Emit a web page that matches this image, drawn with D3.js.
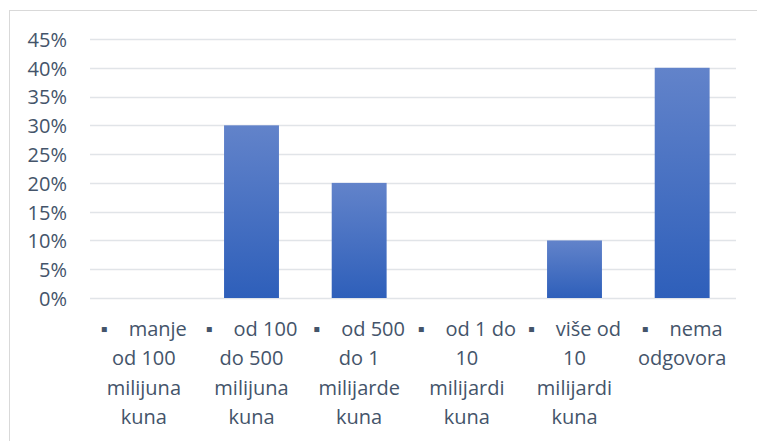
<!DOCTYPE html>
<html>
<head>
<meta charset="utf-8">
<script src="https://cdn.jsdelivr.net/npm/d3@7"></script>
<style>
  body { margin: 0; background: #fff; }
  text { font-family: "Open Sans", "Noto Sans", sans-serif; fill: #44546a; }
</style>
</head>
<body>
<div id="chart"></div>
<script>
// categories, each split into the lines shown under the axis
var categories = [
    ["▪    manje", "od 100", "milijuna", "kuna"],
    ["▪    od 100", "do 500", "milijuna", "kuna"],
    ["▪    od 500", "do 1", "milijarde", "kuna"],
    ["▪    od 1 do", "10", "milijardi", "kuna"],
    ["▪    više od", "10", "milijardi", "kuna"],
    ["▪    nema", "odgovora"]
];
var shares = [0, 0.30, 0.20, 0, 0.10, 0.40];
var yTicks = [0, 0.05, 0.10, 0.15, 0.20, 0.25, 0.30, 0.35, 0.40, 0.45];

var width = 757,
    height = 441;

var margin = {left: 90, right: 21, top: 39, bottom: 143};
var fontSize = "20px";

var svg = d3.select("#chart").append("svg")
    .attr("width", width)
    .attr("height", height);

// frame
svg.append("rect")
    .attr("x", 9.5)
    .attr("y", 10.5)
    .attr("width", 760)
    .attr("height", 440)
    .style("fill", "none")
    .style("stroke", "#d9d9d9");

var grad = svg.append("defs").append("linearGradient")
    .attr("id", "barGrad")
    .attr("x1", 0).attr("y1", 0).attr("x2", 0).attr("y2", 1);
grad.append("stop").attr("offset", "0%").attr("stop-color", "#6283ca");
grad.append("stop").attr("offset", "100%").attr("stop-color", "#2e5fba");

var xScale = d3.scaleBand()
    .domain(d3.range(categories.length))
    .range([margin.left, width - margin.right])
    .paddingInner(0.49)
    .paddingOuter(0.245);

var yScale = d3.scaleLinear()
    .domain([0, 0.45])
    .range([height - margin.bottom, margin.top]);

// gridlines
svg.append("g")
    .selectAll("line")
    .data(yTicks)
    .enter()
    .append("line")
        .attr("x1", margin.left)
        .attr("x2", width - margin.right)
        .attr("y1", function(d) { return Math.round(yScale(d)) + 0.5; })
        .attr("y2", function(d) { return Math.round(yScale(d)) + 0.5; })
        .style("stroke", "#e1e4e8")
        .style("stroke-width", 1.5);

// y axis labels
var yAxis = svg.append("g")
    .attr("transform", "translate(" + 67 + ",0)")
    .call(d3.axisLeft(yScale).tickValues(yTicks).tickFormat(d3.format(".0%")).tickSize(0).tickPadding(0));
yAxis.select(".domain").remove();
yAxis.selectAll("text")
    .attr("dy", "0.37em")
    .style("font-size", fontSize)
    .style("font-family", "\"Open Sans\", sans-serif")
    .style("fill", "#44546a");

// bars
svg.append("g")
    .selectAll("rect")
    .data(shares)
    .enter()
    .append("rect")
        .attr("x", function(d, i) { return xScale(i); })
        .attr("y", function(d) { return yScale(d); })
        .attr("width", xScale.bandwidth())
        .attr("height", function(d) { return yScale(0) - yScale(d); })
        .style("fill", "url(#barGrad)");

// category labels
var labels = svg.append("g")
    .selectAll("text")
    .data(categories)
    .enter()
    .append("text")
        .attr("x", function(d, i) { return xScale(i) + xScale.bandwidth() / 2; })
        .attr("y", 336)
        .attr("text-anchor", "middle")
        .style("font-size", fontSize)
        .style("white-space", "pre");

labels.selectAll("tspan")
    .data(function(d) { return d; })
    .enter()
    .append("tspan")
        .attr("x", function() { return d3.select(this.parentNode).attr("x"); })
        .attr("dy", function(d, i) { return i === 0 ? 0 : 29.3; })
        .text(function(d) { return d; });
</script>
</body>
</html>
